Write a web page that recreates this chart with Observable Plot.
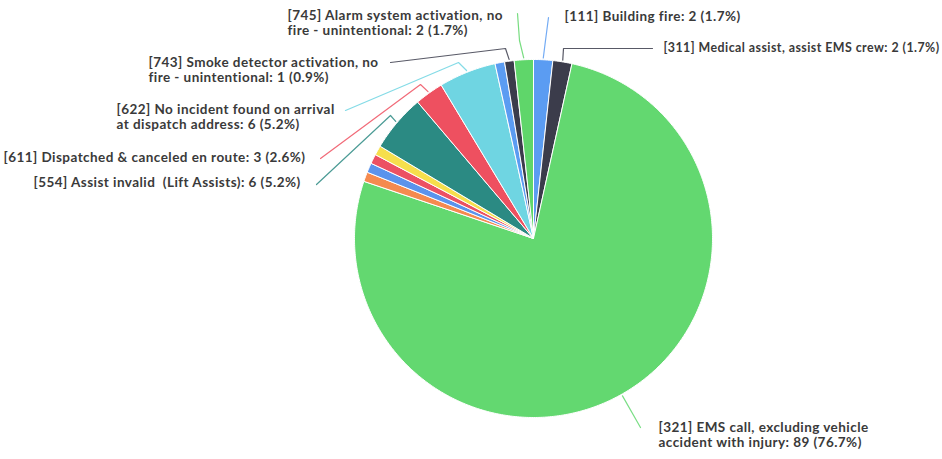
<!DOCTYPE html>
<html>
<head>
<meta charset="utf-8">
<script src="https://cdn.jsdelivr.net/npm/d3@7"></script>
<script src="https://cdn.jsdelivr.net/npm/@observablehq/plot@0.6"></script>
<style>
  html, body { margin: 0; padding: 0; background: #ffffff; }
  #chart svg { display: block; }
  #chart svg text { letter-spacing: 0.45px; }
</style>
</head>
<body>
<div id="chart"></div>
<script>
// ---- data (clockwise from 12 o'clock) ----
const categories = [
  "[111] Building fire",
  "[311] Medical assist, assist EMS crew",
  "[321] EMS call, excluding vehicle\naccident with injury",
  "(unlabeled a)",
  "(unlabeled b)",
  "(unlabeled c)",
  "(unlabeled d)",
  "[554] Assist invalid  (Lift Assists)",
  "[611] Dispatched & canceled en route",
  "[622] No incident found on arrival\nat dispatch address",
  "(unlabeled e)",
  "[743] Smoke detector activation, no\nfire - unintentional",
  "[745] Alarm system activation, no\nfire - unintentional"
];
const values = [2, 2, 89, 1, 1, 1, 1, 6, 3, 6, 1, 1, 2];
const colors = [
  "#5b9cf2", "#3b3c4b", "#63d870", "#f58a4f", "#5b93ec", "#ec5163", "#f6df4c",
  "#2b8a83", "#ee5060", "#6fd5e2", "#5b9cf2", "#3b3c4b", "#5fd66a"
];
const labeled = [true, true, true, false, false, false, false, true, true, true, false, true, true];

// ---- layout (pixels) ----
const W = 942, H = 459, CX = 533, CY = 238, R = 179;
// label placement: text anchor (left, top of block), font size, and leader-line waypoints after the rim point
const labelPlacement = {
  0:  {tx: 564, ty: 18,  fs: 13.5, path: [[545, 40], [548, 17]]},
  1:  {tx: 663, ty: 49,  fs: 12.4, path: [[563, 48], [652, 48]]},
  2:  {tx: 658, ty: 429, fs: 13.5, path: [[640, 427]]},
  7:  {tx: 33,  ty: 184, fs: 13.5, path: [[390, 115], [316, 184]]},
  8:  {tx: 3,   ty: 159, fs: 13.5, path: [[420, 84], [320, 158]]},
  9:  {tx: 116, ty: 111, fs: 13.5, path: [[458, 62], [345, 110]]},
  11: {tx: 148, ty: 64,  fs: 13.5, path: [[505, 48], [390, 62]]},
  12: {tx: 287, ty: 17,  fs: 13.5, path: [[519, 40], [517, 13]]}
};

const fx = px => (px - CX) / R;
const fy = py => (CY - py) / R;

const total = d3.sum(values);
const slices = categories.map((name, i) => ({i, name, value: values[i], color: colors[i]}));
const arcs = d3.pie().sort(null).value(d => d.value).startAngle(0).endAngle(2 * Math.PI)(slices);

// slice polygons in unit-radius space
const poly = [];
arcs.forEach(a => {
  const k = a.data.i;
  const n = Math.max(2, Math.ceil((a.endAngle - a.startAngle) / 0.01));
  poly.push({k, x: 0, y: 0, c: a.data.color});
  for (let j = 0; j <= n; j++) {
    const t = a.startAngle + (a.endAngle - a.startAngle) * j / n;
    poly.push({k, x: Math.sin(t), y: Math.cos(t), c: a.data.color});
  }
  poly.push({k, x: 0, y: 0, c: a.data.color});
});

// leader lines and labels
const leaders = [];
const labels = [];
arcs.forEach(a => {
  const k = a.data.i;
  if (!labeled[k]) return;
  const p = labelPlacement[k];
  const mid = (a.startAngle + a.endAngle) / 2;
  leaders.push({k, x: Math.sin(mid) * 1.01, y: Math.cos(mid) * 1.01, c: a.data.color});
  p.path.forEach(([px, py]) => leaders.push({k, x: fx(px), y: fy(py), c: a.data.color}));
  const pct = (a.data.value / total * 100).toFixed(1);
  labels.push({
    x: fx(p.tx), y: fy(p.ty - 7.5), fs: p.fs,
    text: `${a.data.name}: ${a.data.value} (${pct}%)`
  });
});

const chart = Plot.plot({
  width: W,
  height: H,
  margin: 0,
  x: {domain: [fx(0), fx(W)], axis: null},
  y: {domain: [fy(H), fy(0)], axis: null},
  color: {type: "identity"},
  style: {fontFamily: "Lato, 'Open Sans', sans-serif", background: "#ffffff"},
  marks: [
    Plot.line(poly, {x: "x", y: "y", z: "k", fill: "c", stroke: "#ffffff", strokeWidth: 1, strokeLinejoin: "round"}),
    Plot.line(leaders, {x: "x", y: "y", z: "k", stroke: "c", strokeWidth: 1.2, strokeOpacity: 0.85, curve: "linear"}),
    Plot.text(labels, {
      x: "x", y: "y", text: "text", fontSize: "fs",
      textAnchor: "start", lineAnchor: "top", lineHeight: 1.08,
      fontWeight: "bold", fill: "#3a3a3a"
    })
  ]
});
document.getElementById("chart").appendChild(chart);
</script>
</body>
</html>
